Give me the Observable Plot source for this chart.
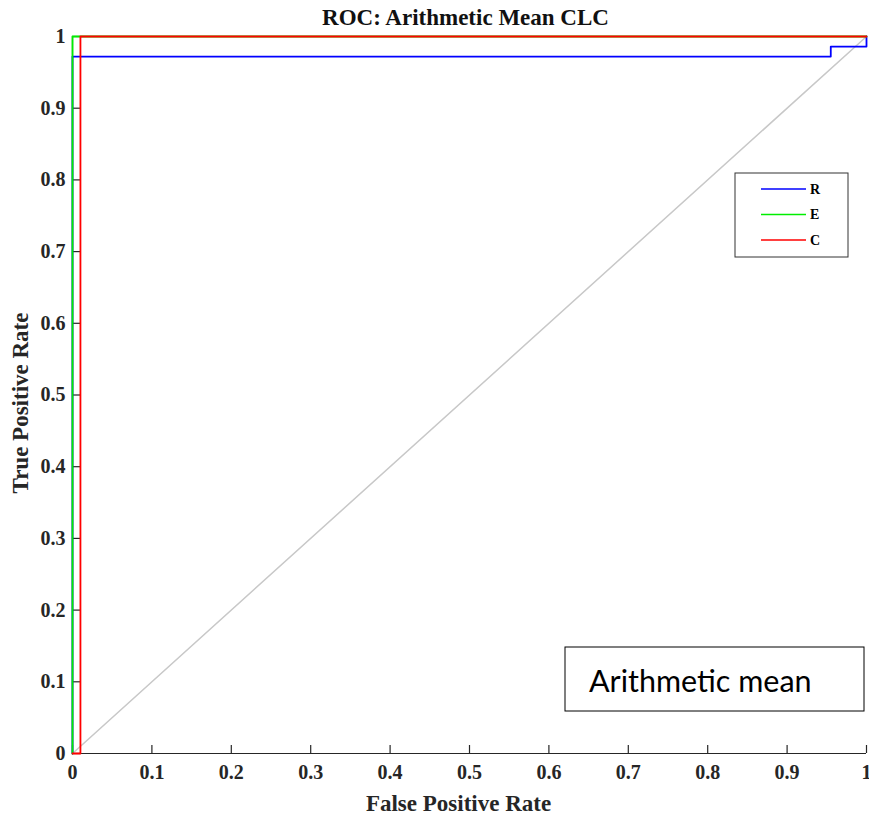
<!DOCTYPE html>
<html>
<head>
<meta charset="utf-8">
<script src="https://cdn.jsdelivr.net/npm/d3@7"></script>
<script src="https://cdn.jsdelivr.net/npm/@observablehq/plot@0.6"></script>
<style>
  body { margin: 0; background: #fff; }
  #chart { position: relative; width: 869px; height: 816px; }
</style>
</head>
<body>
<div id="chart"></div>
<script>
// ROC curves (False Positive Rate, True Positive Rate)
const fprR = [0, 0, 0.955, 0.955, 1, 1];
const tprR = [0, 0.972, 0.972, 0.986, 0.986, 1];
const fprE = [0, 0, 1];
const tprE = [0, 1, 1];
const fprC = [0, 0.01, 0.01, 1];
const tprC = [0, 0, 1, 1];
const chanceX = [0, 1];
const chanceY = [0, 1];

const seriesNames = ["R", "E", "C"];
const seriesColors = ["#0000ff", "#00ee00", "#ff0000"];
const xTicks = [0, 0.1, 0.2, 0.3, 0.4, 0.5, 0.6, 0.7, 0.8, 0.9, 1];
const yTicks = [0, 0.1, 0.2, 0.3, 0.4, 0.5, 0.6, 0.7, 0.8, 0.9, 1];
const titleText = "ROC: Arithmetic Mean CLC";
const xLabel = "False Positive Rate";
const yLabel = "True Positive Rate";
const noteText = "Arithmetic mean";

const toPts = (xs, ys) => xs.map((x, i) => ({x, y: ys[i]}));
const curves = [toPts(fprR, tprR), toPts(fprE, tprE), toPts(fprC, tprC)];
const fmt = d => String(+d.toFixed(1));
const serif = "'Liberation Serif', 'Times New Roman', serif";

const W = 869, H = 816;
const mL = 72, mR = 3, mT = 36, mB = 63;
const tickLen = 8 / (H - mT - mB);
const tickLenX = 8 / (W - mL - mR);

const svg = Plot.plot({
  width: W, height: H,
  marginLeft: mL, marginRight: mR, marginTop: mT, marginBottom: mB,
  x: {domain: [0, 1]},
  y: {domain: [0, 1]},
  style: {fontFamily: serif, background: "#fff"},
  marks: [
    Plot.ruleY([0], {stroke: "#262626", strokeWidth: 1.2}),
    Plot.ruleX([0], {stroke: "#262626", strokeWidth: 1.2}),
    Plot.ruleX(xTicks, {x: d => d, y1: 0, y2: tickLen, stroke: "#262626", strokeWidth: 1.2}),
    Plot.ruleY(yTicks, {y: d => d, x1: 0, x2: tickLenX, stroke: "#262626", strokeWidth: 1.2}),
    Plot.axisX({ticks: xTicks, tickSize: 0, tickPadding: 11, tickFormat: fmt, label: null,
      fontSize: 20, fontWeight: "bold", fill: "#262626", fontFamily: serif}),
    Plot.axisY({ticks: yTicks, tickSize: 0, tickPadding: 7, tickFormat: fmt, label: null,
      fontSize: 20, fontWeight: "bold", fill: "#262626", fontFamily: serif}),
    Plot.line(toPts(chanceX, chanceY), {x: "x", y: "y", stroke: "#c8c8c8", strokeWidth: 1.5}),
    ...curves.map((pts, i) => Plot.line(pts, {x: "x", y: "y", stroke: seriesColors[i], strokeWidth: 1.8, curve: "linear"})),
    Plot.text([titleText], {frameAnchor: "top", textAnchor: "middle", lineAnchor: "middle", dy: -19, dx: -4, text: d => d, fontSize: 23, fontWeight: "bold", fill: "#111", fontFamily: serif}),
    Plot.text([xLabel], {frameAnchor: "bottom", textAnchor: "middle", lineAnchor: "middle", dy: 50, dx: -11, text: d => d, fontSize: 23, fontWeight: "bold", fill: "#262626", fontFamily: serif}),
    Plot.text([yLabel], {frameAnchor: "left", textAnchor: "middle", lineAnchor: "middle", dx: -52, dy: 8, rotate: -90, text: d => d, fontSize: 23, fontWeight: "bold", fill: "#262626", fontFamily: serif})
  ]
});

// Legend and annotation box
const s = d3.select(svg);
const lg = s.append("g").attr("transform", "translate(735,173)");
lg.append("rect").attr("width", 113).attr("height", 84).attr("fill", "#fff").attr("stroke", "#333").attr("stroke-width", 1);
seriesNames.forEach((name, i) => {
  const yy = 16 + i * 25.5;
  lg.append("line").attr("x1", 26).attr("x2", 71).attr("y1", yy).attr("y2", yy)
    .attr("stroke", seriesColors[i]).attr("stroke-width", 1.5);
  lg.append("text").attr("x", 75).attr("y", yy).attr("dy", "0.35em").attr("text-anchor", "start")
    .attr("font-family", serif).attr("font-size", 14).attr("font-weight", "bold").attr("fill", "#000").text(name);
});
const nb = s.append("g").attr("transform", "translate(565,647)");
nb.append("rect").attr("width", 299).attr("height", 64).attr("fill", "#fff").attr("stroke", "#000").attr("stroke-width", 1);
nb.append("text").attr("x", 24).attr("y", 45).attr("text-anchor", "start").attr("font-family", "Lato, 'Open Sans', sans-serif")
  .attr("font-size", 30.5).attr("fill", "#000").text(noteText);

document.getElementById("chart").appendChild(svg);
</script>
</body>
</html>
